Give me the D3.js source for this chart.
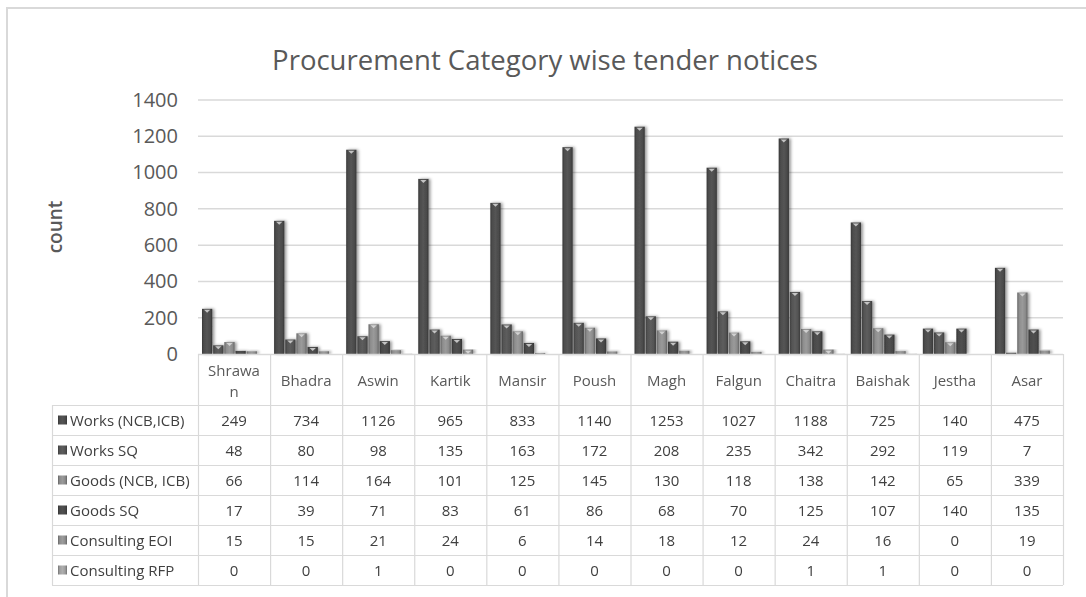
<!DOCTYPE html>
<html>
<head>
<meta charset="utf-8">
<script src="https://cdn.jsdelivr.net/npm/d3@7"></script>
<style>
  html, body { margin: 0; padding: 0; background: #fff; }
  svg { display: block; font-family: "Open Sans", sans-serif; }
</style>
</head>
<body>
<svg id="chart" width="1086" height="597"></svg>
<script>
// months of the Nepali fiscal year
var months = ["Shrawan", "Bhadra", "Aswin", "Kartik", "Mansir", "Poush", "Magh", "Falgun", "Chaitra", "Baishak", "Jestha", "Asar"];

var seriesNames = ["Works (NCB,ICB)", "Works SQ", "Goods (NCB, ICB)", "Goods SQ", "Consulting EOI", "Consulting RFP"];

var worksNcb   = [249, 734, 1126, 965, 833, 1140, 1253, 1027, 1188, 725, 140, 475];
var worksSq    = [48, 80, 98, 135, 163, 172, 208, 235, 342, 292, 119, 7];
var goodsNcb   = [66, 114, 164, 101, 125, 145, 130, 118, 138, 142, 65, 339];
var goodsSq    = [17, 39, 71, 83, 61, 86, 68, 70, 125, 107, 140, 135];
var consultEoi = [15, 15, 21, 24, 6, 14, 18, 12, 24, 16, 0, 19];
var consultRfp = [0, 0, 1, 0, 0, 0, 0, 0, 1, 1, 0, 0];

var yTicks = [0, 200, 400, 600, 800, 1000, 1200, 1400];

var seriesValues = [worksNcb, worksSq, goodsNcb, goodsSq, consultEoi, consultRfp];
var seriesColors = ["#4a4a4a", "#525252", "#888888", "#474747", "#8a8a8a", "#9a9a9a"];

var svg = d3.select("#chart");

var plotLeft = 198, plotRight = 1063, plotTop = 100, plotBottom = 354;
var tableLeft = 52, headerH = 51, rowH = 30;

// outer frame of the chart area
svg.append("rect")
	.attr("x", 7).attr("y", 8)
	.attr("width", 1110).attr("height", 620)
	.attr("fill", "none")
	.attr("stroke", "#d9d9d9")
	.attr("stroke-width", 2);

var x = d3.scaleBand().domain(months).range([plotLeft, plotRight]);
var xInner = d3.scaleBand().domain(d3.range(seriesNames.length))
	.range([4, x.bandwidth() - 2]).paddingInner(0.08);
var y = d3.scaleLinear().domain([0, 1400]).range([plotBottom, plotTop]);

var defs = svg.append("defs");

// soft shadow behind the 3d columns
var shadow = defs.append("filter").attr("id", "shadow")
	.attr("x", "-50%").attr("y", "-10%").attr("width", "200%").attr("height", "120%");
shadow.append("feDropShadow")
	.attr("dx", 2).attr("dy", 0).attr("stdDeviation", 1.8)
	.attr("flood-color", "#000").attr("flood-opacity", 0.4);

seriesColors.forEach(function(c, i) {
	var g = defs.append("linearGradient").attr("id", "grad" + i)
		.attr("x1", "0%").attr("x2", "100%").attr("y1", "0%").attr("y2", "0%");
	var base = d3.color(c);
	g.append("stop").attr("offset", "0%").attr("stop-color", base.darker(0.8));
	g.append("stop").attr("offset", "20%").attr("stop-color", base.brighter(0.1));
	g.append("stop").attr("offset", "50%").attr("stop-color", base.brighter(0.35));
	g.append("stop").attr("offset", "80%").attr("stop-color", base.brighter(0.05));
	g.append("stop").attr("offset", "100%").attr("stop-color", base.darker(0.9));
});

// title
svg.append("text")
	.attr("x", 545).attr("y", 70)
	.attr("text-anchor", "middle")
	.attr("font-size", 27.5)
	.attr("fill", "#595959")
	.text("Procurement Category wise tender notices");

// y axis label
svg.append("text")
	.attr("transform", "translate(62,227) rotate(-90)")
	.attr("text-anchor", "middle")
	.attr("font-size", 19)
	.attr("font-weight", 600)
	.attr("fill", "#595959")
	.text("count");

// gridlines
svg.append("g").selectAll("line").data(yTicks.filter(function(d) { return d > 0; }))
	.join("line")
	.attr("x1", plotLeft).attr("x2", plotRight)
	.attr("y1", function(d) { return y(d); }).attr("y2", function(d) { return y(d); })
	.attr("stroke", "#d9d9d9").attr("stroke-width", 1.5);

// y axis tick labels
var yAxis = svg.append("g")
	.attr("transform", "translate(" + (plotLeft - 20) + ",0)")
	.call(d3.axisLeft(y).tickValues(yTicks).tickFormat(d3.format("d")).tickSize(0).tickPadding(0));
yAxis.select(".domain").remove();
yAxis.selectAll("text")
	.attr("font-family", "Open Sans, sans-serif")
	.attr("font-size", 20)
	.attr("fill", "#595959");

// columns
var groups = svg.append("g").selectAll("g")
	.data(seriesValues)
	.join("g")
	.attr("filter", "url(#shadow)");

groups.each(function(vals, si) {
	var g = d3.select(this);
	var w = xInner.bandwidth();
	vals.forEach(function(v, mi) {
		if (v <= 0) return;
		var bx = x(months[mi]) + xInner(si);
		var by = y(v);
		g.append("rect")
			.attr("x", bx).attr("y", by)
			.attr("width", w).attr("height", plotBottom - by)
			.attr("fill", "url(#grad" + si + ")");
		// little bevel at the top of each column
		if (plotBottom - by > 4) {
			g.append("path")
				.attr("d", "M" + (bx + 2) + "," + (by + 1) + "L" + (bx + w - 2) + "," + (by + 1) +
					"L" + (bx + w / 2) + "," + (by + 4) + "Z")
				.attr("fill", "#e0e0e0").attr("opacity", 0.8);
		}
	});
});

// data table under the plot
var table = svg.append("g");
var tableBottom = plotBottom + headerH + rowH * seriesNames.length;
var lineColor = "#d9d9d9";

// horizontal lines
table.append("line")
	.attr("x1", plotLeft).attr("x2", plotRight)
	.attr("y1", plotBottom + 0.5).attr("y2", plotBottom + 0.5)
	.attr("stroke", lineColor).attr("stroke-width", 1.5);
d3.range(seriesNames.length + 1).forEach(function(i) {
	var yy = plotBottom + headerH + rowH * i + 0.5;
	table.append("line")
		.attr("x1", tableLeft).attr("x2", plotRight)
		.attr("y1", yy).attr("y2", yy)
		.attr("stroke", lineColor).attr("stroke-width", 1.2);
});
// vertical lines
table.append("line")
	.attr("x1", tableLeft + 0.5).attr("x2", tableLeft + 0.5)
	.attr("y1", plotBottom + headerH).attr("y2", tableBottom)
	.attr("stroke", lineColor).attr("stroke-width", 1.2);
months.concat(["end"]).forEach(function(m, i) {
	var xx = plotLeft + x.bandwidth() * i + 0.5;
	table.append("line")
		.attr("x1", xx).attr("x2", xx)
		.attr("y1", plotBottom).attr("y2", tableBottom)
		.attr("stroke", lineColor).attr("stroke-width", 1.2);
});

// month headers, wrap long names like excel does
months.forEach(function(m) {
	var cx = x(m) + x.bandwidth() / 2;
	var t = table.append("text")
		.attr("x", cx)
		.attr("text-anchor", "middle")
		.attr("font-size", 15)
		.attr("fill", "#595959")
		.text(m);
	var maxW = x.bandwidth() - 14;
	if (t.node().getComputedTextLength() > maxW) {
		var cut = m.length;
		while (cut > 1) {
			t.text(m.slice(0, cut));
			if (t.node().getComputedTextLength() <= maxW) break;
			cut--;
		}
		t.text(null);
		var midY = plotBottom + headerH / 2;
		t.append("tspan").attr("x", cx).attr("y", midY - 4).text(m.slice(0, cut));
		t.append("tspan").attr("x", cx).attr("y", midY + 17).text(m.slice(cut));
	} else {
		t.attr("y", plotBottom + headerH / 2 + 6);
	}
});

// rows: legend key, series name and values
seriesNames.forEach(function(name, si) {
	var rowMid = plotBottom + headerH + rowH * si + rowH / 2;
	table.append("rect")
		.attr("x", 58).attr("y", rowMid - 4.5)
		.attr("width", 9).attr("height", 9)
		.attr("fill", "url(#grad" + si + ")");
	table.append("text")
		.attr("x", 70).attr("y", rowMid + 5.5)
		.attr("font-size", 15)
		.attr("fill", "#404040")
		.text(name);
	seriesValues[si].forEach(function(v, mi) {
		table.append("text")
			.attr("x", x(months[mi]) + x.bandwidth() / 2)
			.attr("y", rowMid + 5.5)
			.attr("text-anchor", "middle")
			.attr("font-size", 15)
			.attr("fill", "#404040")
			.text(v);
	});
});
</script>
</body>
</html>
